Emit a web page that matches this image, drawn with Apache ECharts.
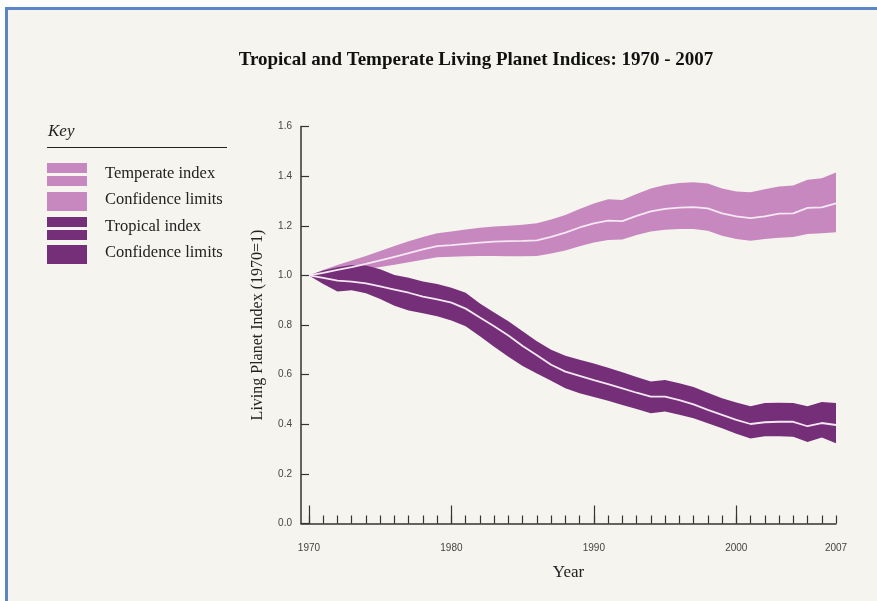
<!DOCTYPE html>
<html>
<head>
<meta charset="utf-8">
<script src="https://cdn.jsdelivr.net/npm/echarts@6/dist/echarts.min.js"></script>
<style>
  html, body { margin: 0; padding: 0; background: #ffffff; }
  #chart { width: 877px; height: 601px; }
</style>
</head>
<body>
<div id="chart"></div>
<script>
// Living Planet Index values (1970 = 1), one entry per year
const years = [1970, 1971, 1972, 1973, 1974, 1975, 1976, 1977, 1978, 1979,
  1980, 1981, 1982, 1983, 1984, 1985, 1986, 1987, 1988, 1989,
  1990, 1991, 1992, 1993, 1994, 1995, 1996, 1997, 1998, 1999,
  2000, 2001, 2002, 2003, 2004, 2005, 2006, 2007];

const temperateIndex = [1.000, 1.010, 1.022, 1.033, 1.046, 1.060, 1.075, 1.090, 1.105, 1.118,
  1.122, 1.127, 1.132, 1.136, 1.138, 1.139, 1.141, 1.155, 1.172, 1.193,
  1.210, 1.221, 1.219, 1.240, 1.258, 1.268, 1.273, 1.275, 1.270, 1.250,
  1.238, 1.231, 1.238, 1.249, 1.250, 1.272, 1.274, 1.290];
const temperateUpper = [1.000, 1.022, 1.042, 1.060, 1.078, 1.098, 1.118, 1.138, 1.155, 1.170,
  1.177, 1.185, 1.192, 1.197, 1.200, 1.204, 1.210, 1.225, 1.243, 1.268,
  1.290, 1.307, 1.304, 1.328, 1.350, 1.364, 1.372, 1.375, 1.370, 1.350,
  1.338, 1.335, 1.347, 1.358, 1.362, 1.385, 1.391, 1.415];
const temperateLower = [1.000, 1.005, 1.012, 1.018, 1.025, 1.034, 1.043, 1.053, 1.063, 1.073,
  1.075, 1.077, 1.078, 1.078, 1.077, 1.077, 1.078, 1.088, 1.100, 1.117,
  1.132, 1.143, 1.145, 1.163, 1.177, 1.184, 1.187, 1.187, 1.180, 1.160,
  1.147, 1.140, 1.147, 1.152, 1.155, 1.167, 1.170, 1.174];

const tropicalIndex = [1.000, 0.990, 0.979, 0.975, 0.968, 0.956, 0.943, 0.930, 0.914, 0.903,
  0.890, 0.866, 0.830, 0.795, 0.758, 0.715, 0.678, 0.640, 0.612, 0.595,
  0.578, 0.562, 0.545, 0.527, 0.511, 0.511, 0.497, 0.480, 0.458, 0.438,
  0.418, 0.401, 0.408, 0.410, 0.410, 0.392, 0.405, 0.397];
const tropicalUpper = [1.000, 1.020, 1.033, 1.042, 1.040, 1.025, 1.002, 0.990, 0.975, 0.965,
  0.950, 0.930, 0.887, 0.850, 0.815, 0.775, 0.735, 0.700, 0.676, 0.660,
  0.645, 0.628, 0.610, 0.590, 0.572, 0.578, 0.565, 0.550, 0.527, 0.505,
  0.488, 0.473, 0.486, 0.487, 0.486, 0.473, 0.490, 0.486];
const tropicalLower = [1.000, 0.965, 0.935, 0.940, 0.928, 0.905, 0.878, 0.858, 0.847, 0.835,
  0.818, 0.795, 0.755, 0.712, 0.672, 0.635, 0.605, 0.575, 0.545, 0.525,
  0.510, 0.495, 0.478, 0.461, 0.444, 0.451, 0.438, 0.424, 0.404, 0.384,
  0.362, 0.343, 0.352, 0.352, 0.350, 0.328, 0.347, 0.323];

// Axis tick values and labels
const yearLabels = [1970, 1980, 1990, 2000, 2007];
const decadeTicks = [1970, 1980, 1990, 2000];

const title = 'Tropical and Temperate Living Planet Indices: 1970 - 2007';
const keyItems = ['Temperate index', 'Confidence limits', 'Tropical index', 'Confidence limits'];

const TEMPERATE = '#c788bf';
const TROPICAL = '#742f78';
const CENTRE_LINE = '#f6e8f3';
const BG = '#f5f4ee';
const INK = '#333333';
const SERIF = '"Liberation Serif", "DejaVu Serif", serif';
const SANS = '"Liberation Sans", Arial, sans-serif';

// Confidence band: one polygon along the upper limits and back along the lower limits
function band(lower, upper, color, z) {
  return {
    type: 'custom',
    silent: true,
    z: z,
    data: [[years[0], lower[0]]],
    renderItem: function (params, api) {
      const pts = [];
      for (let i = 0; i < years.length; i++) pts.push(api.coord([years[i], upper[i]]));
      for (let i = years.length - 1; i >= 0; i--) pts.push(api.coord([years[i], lower[i]]));
      return { type: 'polygon', shape: { points: pts }, style: { fill: color } };
    }
  };
}

function centreLine(values, z) {
  return {
    type: 'line',
    silent: true,
    z: z,
    showSymbol: false,
    symbol: 'none',
    data: years.map((y, i) => [y, values[i]]),
    lineStyle: { color: CENTRE_LINE, width: 1.8 }
  };
}

// Key on the left
const keyX = 47, keyW = 40, textX = 105;
const keyGraphics = [
  { type: 'text', left: 48, top: 123, style: { text: 'Key', font: 'italic 17px ' + SERIF, fill: '#222' } },
  { type: 'line', shape: { x1: 47, y1: 147.5, x2: 227, y2: 147.5 }, style: { stroke: '#222', lineWidth: 1 } },
  { type: 'rect', shape: { x: keyX, y: 163, width: keyW, height: 10 }, style: { fill: TEMPERATE } },
  { type: 'rect', shape: { x: keyX, y: 176, width: keyW, height: 10 }, style: { fill: TEMPERATE } },
  { type: 'rect', shape: { x: keyX, y: 192, width: keyW, height: 19 }, style: { fill: TEMPERATE } },
  { type: 'rect', shape: { x: keyX, y: 217, width: keyW, height: 10 }, style: { fill: TROPICAL } },
  { type: 'rect', shape: { x: keyX, y: 230, width: keyW, height: 10 }, style: { fill: TROPICAL } },
  { type: 'rect', shape: { x: keyX, y: 245, width: keyW, height: 19 }, style: { fill: TROPICAL } }
];
const keyTextY = [174, 200, 226.5, 253];
keyItems.forEach((t, i) => {
  keyGraphics.push({
    type: 'text', x: textX, y: keyTextY[i],
    style: { text: t, font: '16.5px ' + SERIF, fill: '#222', verticalAlign: 'middle' }
  });
});

const chart = echarts.init(document.getElementById('chart'), null, { renderer: 'canvas' });
chart.setOption({
  backgroundColor: BG,
  animation: false,
  grid: { left: 301, right: 41, top: 126.5, bottom: 77.5, containLabel: false },
  xAxis: [
    {
      type: 'value',
      min: 1969.44,
      max: 2007,
      name: 'Year',
      nameLocation: 'middle',
      nameGap: 41,
      nameTextStyle: { fontFamily: SERIF, fontSize: 17, color: '#222' },
      splitLine: { show: false },
      axisLine: { show: true, onZero: false, lineStyle: { color: INK, width: 1.5 } },
      axisTick: { show: true, inside: true, length: 8, customValues: years, lineStyle: { color: INK, width: 1.2 } },
      axisLabel: { show: true, customValues: yearLabels, margin: 20, fontFamily: SANS, fontSize: 10, color: '#444',
        formatter: v => String(v) }
    },
    {
      type: 'value',
      min: 1969.44,
      max: 2007,
      position: 'bottom',
      splitLine: { show: false },
      axisLine: { show: false },
      axisTick: { show: true, inside: true, length: 18, customValues: decadeTicks, lineStyle: { color: INK, width: 1.2 } },
      axisLabel: { show: false }
    }
  ],
  yAxis: {
    type: 'value',
    min: 0,
    max: 1.6,
    interval: 0.2,
    name: 'Living Planet Index (1970=1)',
    nameLocation: 'middle',
    nameRotate: 90,
    nameGap: 35,
    nameTextStyle: { fontFamily: SERIF, fontSize: 16, color: '#222' },
    splitLine: { show: false },
    axisLine: { show: true, lineStyle: { color: INK, width: 1.5 } },
    axisTick: { show: true, inside: true, length: 8, lineStyle: { color: INK, width: 1.2 } },
    axisLabel: { margin: 9, fontFamily: SANS, fontSize: 10, color: '#444', formatter: v => v.toFixed(1) }
  },
  graphic: [
    // page edge and frame
    { type: 'rect', shape: { x: 0, y: 0, width: 877, height: 7 }, style: { fill: '#ffffff' }, z: 100 },
    { type: 'rect', shape: { x: 0, y: 0, width: 5, height: 601 }, style: { fill: '#ffffff' }, z: 100 },
    { type: 'rect', shape: { x: 5, y: 7, width: 872, height: 3 }, style: { fill: '#5a86c5' }, z: 101 },
    { type: 'rect', shape: { x: 5, y: 7, width: 3, height: 594 }, style: { fill: '#5a86c5' }, z: 101 },
    {
      type: 'text', x: 476, y: 60, z: 100,
      style: { text: title, font: 'bold 19px ' + SERIF, fill: '#111', align: 'center', verticalAlign: 'middle' }
    }
  ].concat(keyGraphics),
  series: [
    band(temperateLower, temperateUpper, TEMPERATE, 2),
    band(tropicalLower, tropicalUpper, TROPICAL, 3),
    centreLine(temperateIndex, 4),
    centreLine(tropicalIndex, 4)
  ]
});
</script>
</body>
</html>
